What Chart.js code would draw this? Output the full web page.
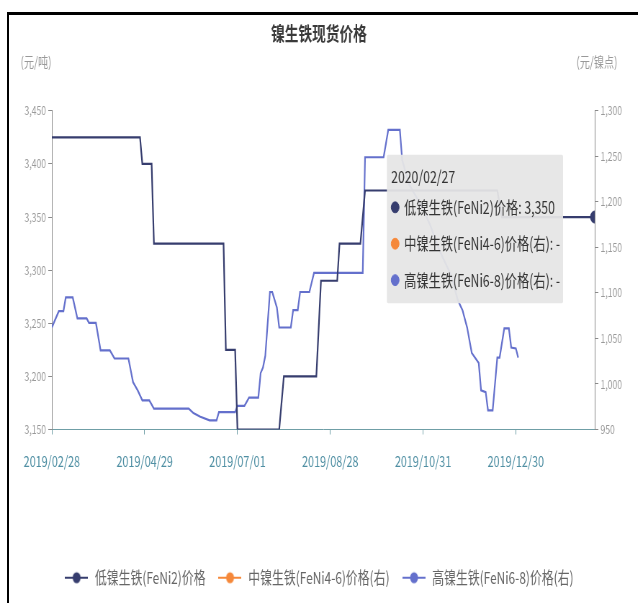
<!DOCTYPE html>
<html>
<head>
<meta charset="utf-8">
<script src="https://cdn.jsdelivr.net/npm/chart.js@4.4.1/dist/chart.umd.min.js"></script>
<style>
    html, body { margin: 0; padding: 0; background: #fff; overflow: hidden; }
    #squeeze {
        position: absolute; left: 0; top: 0;
        width: 886px; height: 603px;
        transform: scaleX(0.72); transform-origin: 0 0;
    }
    #frame {
        position: absolute; left: 7px; top: 12px;
        width: 700px; height: 700px;
        border-left: 2px solid #000; border-top: 3px solid #000;
        pointer-events: none;
    }
</style>
</head>
<body>
<div id="squeeze"><canvas id="priceChart" width="886" height="603"></canvas></div>
<div id="frame"></div>
<script>
    // 横轴按交易日序号排列，每 40 个交易日一个刻度
    const dateTicks = ['2019/02/28', '2019/04/29', '2019/07/01', '2019/08/28', '2019/10/31', '2019/12/30'];
    const tickStep = 40;
    const lastDay = 234;
    const lastDate = '2020/02/27';

    // 低镍生铁(FeNi2) 元/吨，左轴
    const lowDays = [0, 38, 39, 43, 44, 74, 75, 79, 80, 98, 100, 114, 116, 123, 124, 133, 135, 192, 194, 234];
    const lowPrice = [3425, 3425, 3400, 3400, 3325, 3325, 3225, 3225, 3150, 3150, 3200, 3200, 3290, 3290, 3325, 3325, 3375, 3375, 3350, 3350];

    // 中镍生铁(FeNi4-6) 元/镍点，右轴（无数据）
    const midDays = [lastDay];
    const midPrice = [null];

    // 高镍生铁(FeNi6-8) 元/镍点，右轴
    const highDays = [0, 3, 5, 6, 9, 11, 15, 16, 19, 21, 25, 27, 33, 35, 37, 39, 42, 44, 59, 61, 64, 68, 71, 72, 79, 80, 83, 85, 89, 90, 91, 92, 94, 95, 97, 98, 103, 104, 106, 107, 111, 113, 134, 135, 143, 145, 150, 151, 154, 159, 163, 167, 172, 175, 177, 179, 181, 184, 185, 187, 188, 190, 192, 193, 195, 197, 198, 200, 201, lastDay];
    const highPrice = [1062, 1080, 1080, 1095, 1095, 1072, 1072, 1067, 1067, 1037, 1037, 1028, 1028, 1002, 993, 982, 982, 973, 973, 968, 964, 960, 960, 969, 969, 976, 976, 985, 985, 1012, 1018, 1031, 1101, 1101, 1084, 1062, 1062, 1081, 1081, 1101, 1101, 1122, 1122, 1249, 1249, 1279, 1279, 1246, 1219, 1197, 1175, 1147, 1120, 1092, 1081, 1062, 1034, 1023, 993, 991, 971, 971, 1029, 1029, 1061, 1061, 1040, 1039, 1029, null];

    const fontFamily = '"Noto Sans CJK SC", "Noto Sans", sans-serif';
    const lowColor = '#363d6e';
    const midColor = '#f5883a';
    const highColor = '#6470cc';

    const toPoints = (days, values) => days.map((d, i) => ({x: d, y: values[i]}));
    const fmt = v => (v === null || v === undefined) ? '-' : v.toLocaleString('en-US');
    const dateOf = x => x === lastDay ? lastDate : (dateTicks[x / tickStep] || '');

    // 图例图标：横线 + 圆点
    const legendIcon = color => {
        const c = document.createElement('canvas');
        c.width = 32;
        c.height = 14;
        const g = c.getContext('2d');
        g.strokeStyle = color;
        g.lineWidth = 2;
        g.beginPath();
        g.moveTo(0, 7);
        g.lineTo(32, 7);
        g.stroke();
        g.fillStyle = color;
        g.beginPath();
        g.arc(16, 7, 5.5, 0, Math.PI * 2);
        g.fill();
        return c;
    };

    // 提示框放在数据点左侧
    Chart.Tooltip.positioners.besidePoint = function (items) {
        const pts = items.filter(i => i.element && i.element.hasValue());
        if (!pts.length) {
            return false;
        }
        return {x: pts[0].element.x, y: pts[0].element.y + 12};
    };

    // 坐标轴单位
    const axisUnits = {
        id: 'axisUnits',
        afterDraw(chart) {
            const {ctx, chartArea, scales} = chart;
            ctx.save();
            ctx.font = '14px ' + fontFamily;
            ctx.fillStyle = '#999';
            ctx.textBaseline = 'middle';
            ctx.textAlign = 'center';
            ctx.fillText('(元/吨)', scales.yPrice.right - 22, chartArea.top - 49);
            ctx.fillText('(元/镍点)', scales.yIndex.left + 3, chartArea.top - 49);
            ctx.restore();
        }
    };

    const axisGray = '#8a8a8a';
    const yAxis = (position, min, max, width) => ({
        type: 'linear',
        position: position,
        min: min,
        max: max,
        ticks: {
            stepSize: 50,
            color: '#999',
            font: {family: fontFamily, size: 12},
            padding: 3,
            callback: v => fmt(v)
        },
        grid: {drawOnChartArea: false, tickLength: 5, color: axisGray},
        border: {display: true, color: axisGray},
        afterFit: s => { s.width = width; }
    });

    const chart = new Chart(document.getElementById('priceChart'), {
        type: 'line',
        data: {
            datasets: [
                {
                    label: '低镍生铁(FeNi2)价格',
                    data: toPoints(lowDays, lowPrice),
                    yAxisID: 'yPrice',
                    borderColor: lowColor,
                    backgroundColor: lowColor,
                    borderWidth: 2.2,
                    pointRadius: 0,
                    pointHoverRadius: 6,
                    pointHoverBackgroundColor: lowColor,
                    pointHoverBorderColor: lowColor,
                    pointHoverBorderWidth: 1
                },
                {
                    label: '中镍生铁(FeNi4-6)价格(右)',
                    data: toPoints(midDays, midPrice),
                    yAxisID: 'yIndex',
                    borderColor: midColor,
                    backgroundColor: midColor,
                    borderWidth: 2.2,
                    pointRadius: 0
                },
                {
                    label: '高镍生铁(FeNi6-8)价格(右)',
                    data: toPoints(highDays, highPrice),
                    yAxisID: 'yIndex',
                    borderColor: highColor,
                    backgroundColor: highColor,
                    borderWidth: 2.2,
                    pointRadius: 0
                }
            ]
        },
        options: {
            responsive: false,
            animation: false,
            events: [],
            layout: {padding: {top: 0, left: 0, right: 0, bottom: 7}},
            scales: {
                x: {
                    type: 'linear',
                    min: 0,
                    max: lastDay,
                    afterBuildTicks: s => {
                        s.ticks = dateTicks.map((_, i) => ({value: i * tickStep}));
                    },
                    ticks: {
                        color: '#4f8fa3',
                        font: {family: fontFamily, size: 15},
                        padding: 18,
                        maxRotation: 0,
                        autoSkip: false,
                        callback: v => dateOf(v)
                    },
                    grid: {drawOnChartArea: false, tickLength: 5, color: '#6f9ea6'},
                    border: {display: true, color: '#6f9ea6'},
                    afterFit: s => { s.height = 123; }
                },
                yPrice: yAxis('left', 3150, 3450, 72),
                yIndex: yAxis('right', 950, 1300, 60)
            },
            plugins: {
                title: {
                    display: true,
                    text: '镍生铁现货价格',
                    color: '#3a3a3a',
                    font: {family: fontFamily, size: 19, weight: 'bold'},
                    padding: {top: 22, bottom: 66}
                },
                legend: {
                    position: 'bottom',
                    labels: {
                        usePointStyle: true,
                        pointStyleWidth: 34,
                        padding: 17,
                        color: '#666',
                        font: {family: fontFamily, size: 16.5},
                        generateLabels: ch => ch.data.datasets.map((ds, i) => ({
                            text: ds.label,
                            datasetIndex: i,
                            pointStyle: legendIcon(ds.borderColor),
                            fillStyle: ds.borderColor,
                            strokeStyle: ds.borderColor,
                            lineWidth: 0,
                            fontColor: '#666'
                        }))
                    }
                },
                tooltip: {
                    position: 'besidePoint',
                    xAlign: 'right',
                    yAlign: 'center',
                    backgroundColor: 'rgba(230, 230, 230, 0.94)',
                    titleColor: '#333',
                    bodyColor: '#333',
                    titleFont: {family: fontFamily, size: 17, weight: 'normal'},
                    bodyFont: {family: fontFamily, size: 17},
                    titleMarginBottom: 10,
                    bodySpacing: 16,
                    padding: {top: 12, bottom: 13, left: 6, right: 4},
                    caretSize: 0,
                    caretPadding: 44,
                    cornerRadius: 2,
                    usePointStyle: true,
                    boxWidth: 11,
                    boxHeight: 11,
                    boxPadding: 5,
                    callbacks: {
                        title: items => dateOf(items[0].raw.x),
                        label: item => `${item.dataset.label}: ${fmt(item.raw.y)}`,
                        labelColor: item => ({
                            borderColor: item.dataset.borderColor,
                            backgroundColor: item.dataset.borderColor
                        }),
                        labelPointStyle: () => ({pointStyle: 'circle', rotation: 0})
                    }
                }
            }
        },
        plugins: [axisUnits]
    });

    // 最后一个交易日的提示框
    const active = chart.data.datasets.map((ds, i) => ({datasetIndex: i, index: ds.data.length - 1}));
    chart.setActiveElements(active);
    chart.tooltip.setActiveElements(active, {x: 0, y: 0});
    chart.update();
</script>
</body>
</html>
